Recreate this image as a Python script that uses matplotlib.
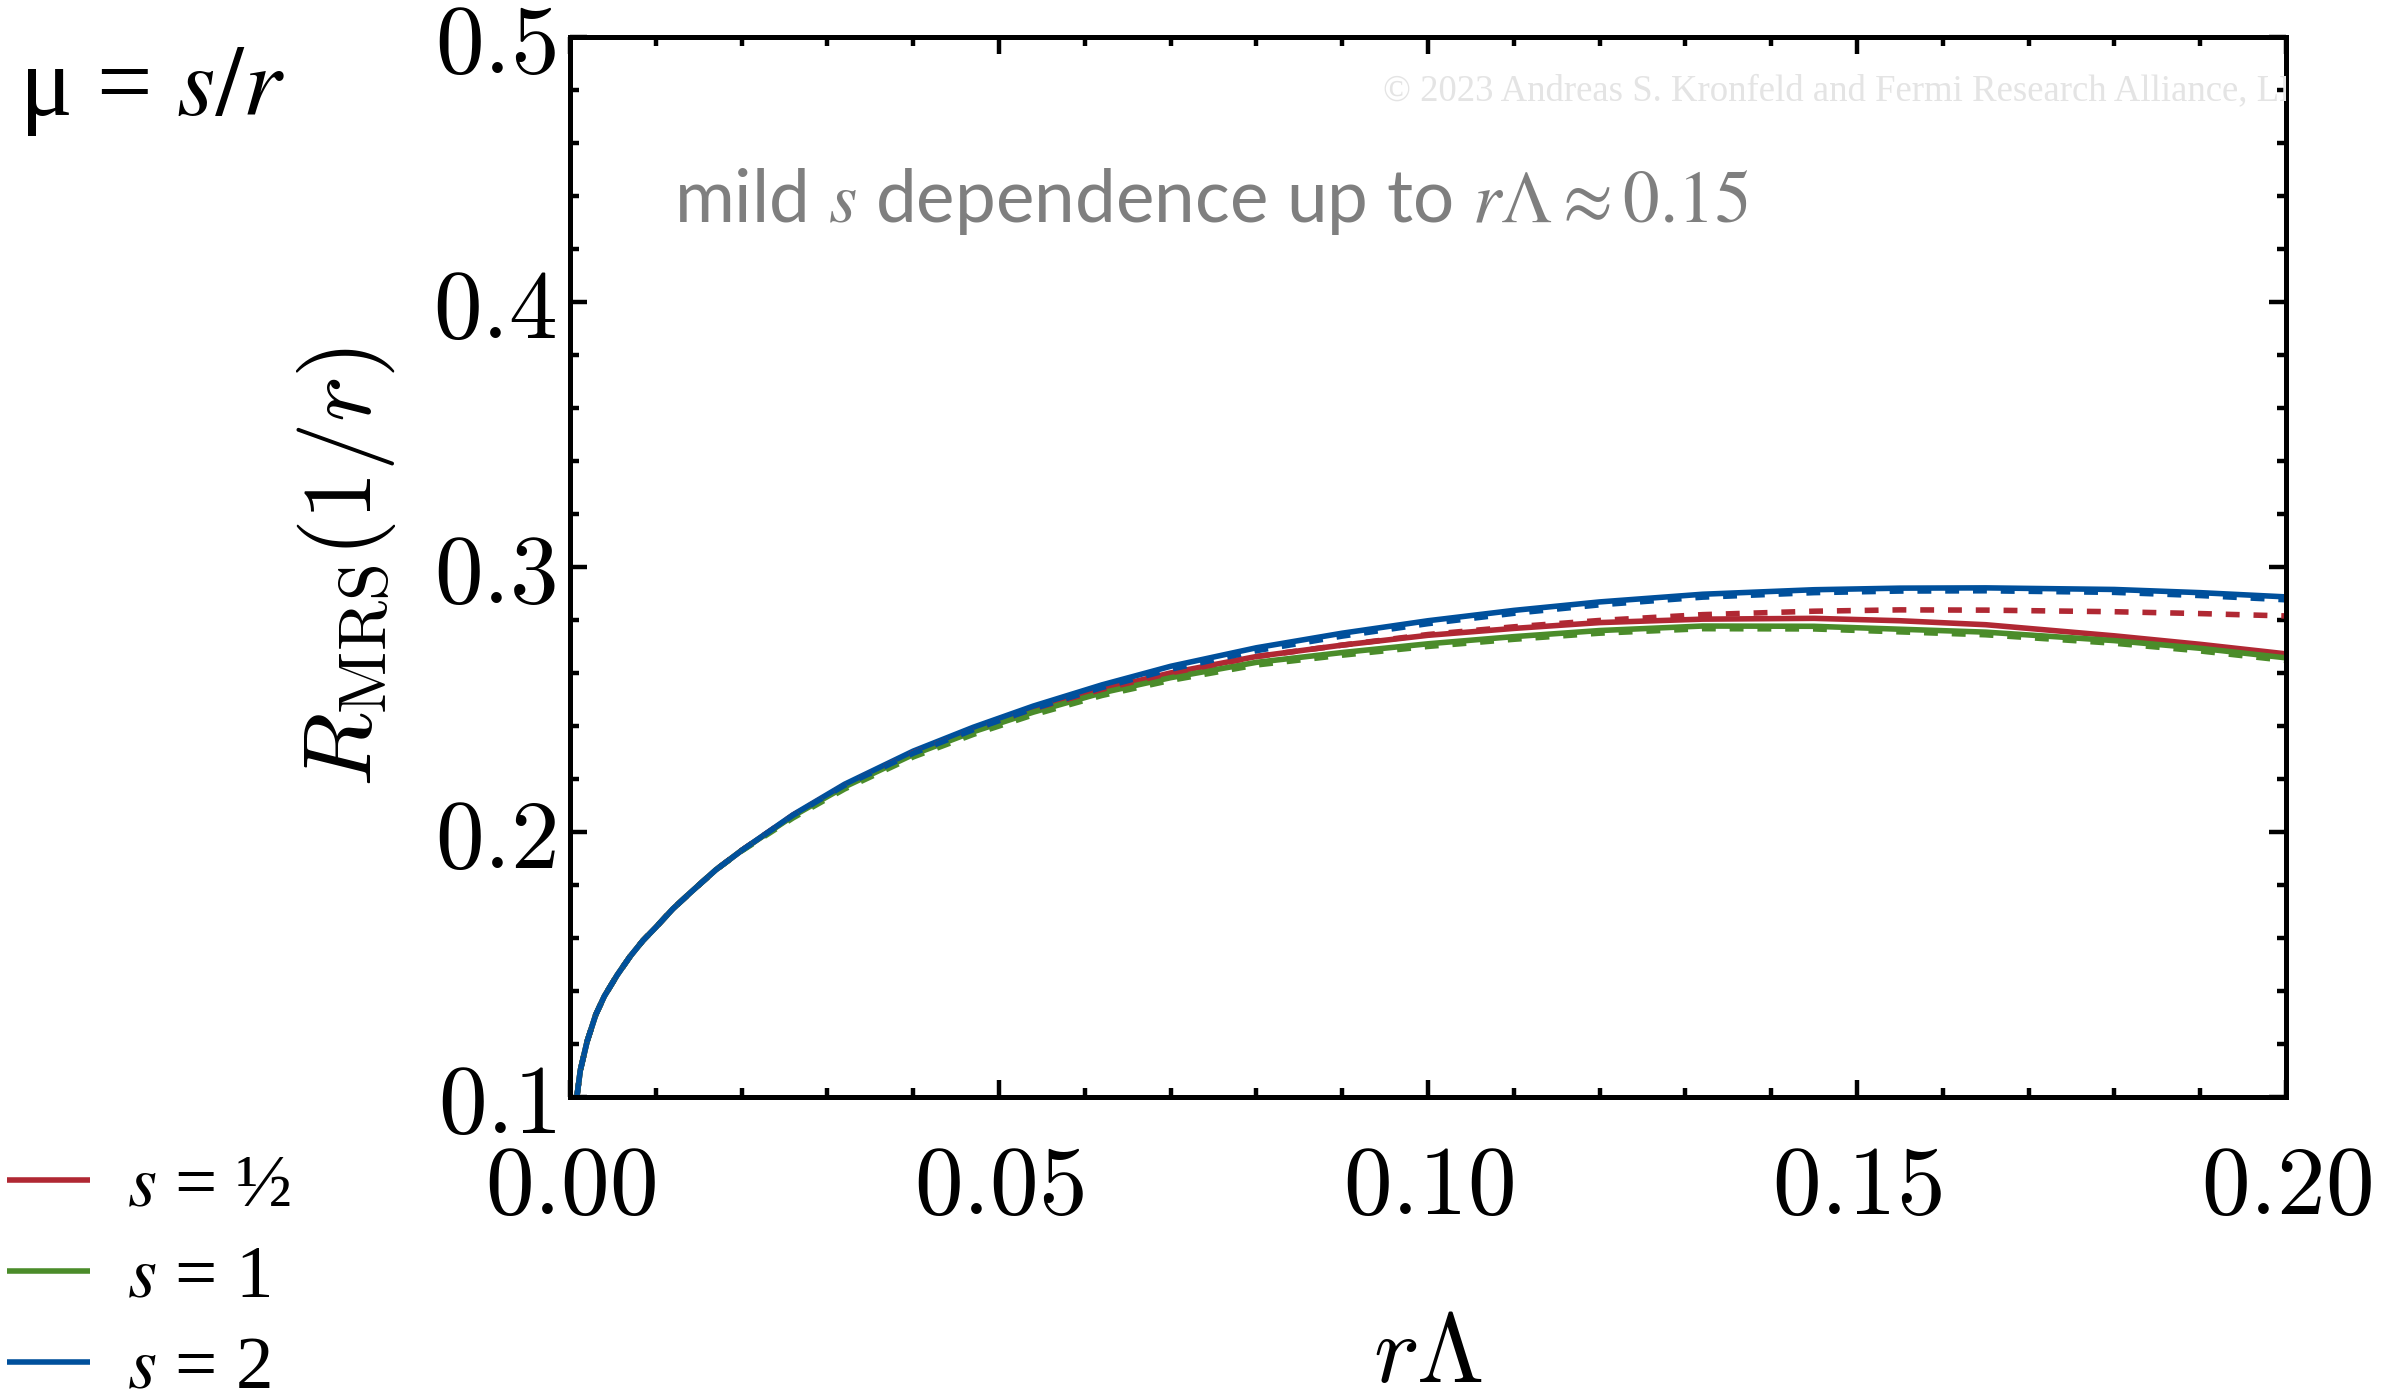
import numpy as np
import matplotlib.pyplot as plt
from matplotlib.font_manager import FontProperties
from matplotlib.ticker import MultipleLocator, FuncFormatter

plt.rcParams['mathtext.fontset'] = 'cm'

# r*Lambda grid and R_MRS(1/r) for the three scale choices mu = s/r
r_lambda = [0.0008, 0.0012, 0.002, 0.003, 0.004, 0.0055, 0.007, 0.0085, 0.010, 0.012,
            0.014, 0.017, 0.020,
            0.026, 0.032, 0.040, 0.047, 0.054, 0.062, 0.070, 0.080, 0.090, 0.100,
            0.110, 0.120, 0.132, 0.145, 0.155, 0.165, 0.180, 0.190, 0.200]

early = [0.100, 0.110, 0.121, 0.131, 0.138, 0.146, 0.153, 0.159, 0.164, 0.171,
         0.177, 0.1857, 0.193]

r_half = early + [0.2063, 0.2175, 0.2298, 0.2385, 0.2463, 0.2538, 0.2600, 0.2662, 0.2705, 0.2742,
                  0.2768, 0.2790, 0.2803, 0.2806, 0.2797, 0.2782, 0.2740, 0.2708, 0.2672]
r_half_dash = early + [0.2063, 0.2175, 0.2298, 0.2385, 0.2463, 0.2538, 0.2600, 0.2662, 0.2705, 0.2745,
                       0.2774, 0.2798, 0.2820, 0.2833, 0.2838, 0.2837, 0.2831, 0.2824, 0.2815]

r_one = early + [0.2060, 0.2170, 0.2292, 0.2378, 0.2452, 0.2525, 0.2582, 0.2640, 0.2677, 0.2710,
                 0.2737, 0.2760, 0.2777, 0.2776, 0.2765, 0.2754, 0.2722, 0.2693, 0.2657]
r_one_dash = early[:-1] + [0.1928, 0.2053, 0.2162, 0.2283, 0.2368, 0.2442, 0.2515, 0.2572, 0.2630, 0.2667,
                           0.2700, 0.2727, 0.2750, 0.2767, 0.2766, 0.2755, 0.2744, 0.2712, 0.2683, 0.2647]

r_two = early + [0.2065, 0.2180, 0.2305, 0.2395, 0.2475, 0.2555, 0.2625, 0.2695, 0.2750, 0.2797,
                 0.2836, 0.2868, 0.2897, 0.2914, 0.2920, 0.2921, 0.2915, 0.2903, 0.2887]
r_two_dash = early + [0.2063, 0.2176, 0.2297, 0.2386, 0.2465, 0.2545, 0.2614, 0.2684, 0.2739, 0.2786,
                      0.2825, 0.2857, 0.2886, 0.2903, 0.2909, 0.2910, 0.2904, 0.2892, 0.2876]

labels = ['$s$ = ½', '$s$ = 1', '$s$ = 2']
colors = ['#b02833', '#4b8c2a', '#00509c']

fig = plt.figure(figsize=(24.02, 13.94), dpi=100)
ax = fig.add_axes([0.2373, 0.2131, 0.7144, 0.7604])

lw = 4.0
solid = [r_half, r_one, r_two]
dashed = [r_half_dash, r_one_dash, r_two_dash]
handles = []
for ys, c in zip(solid, colors):
    h, = ax.plot(r_lambda, ys, color=c, lw=lw, solid_capstyle='butt', solid_joinstyle='round')
    handles.append(h)
for ys, c in zip(dashed, colors):
    ax.plot(r_lambda, ys, color=c, lw=lw, dashes=(2.5, 2.5))

ax.set_xlim(0, 0.2)
ax.set_ylim(0.1, 0.5)
ax.xaxis.set_major_locator(MultipleLocator(0.05))
ax.xaxis.set_minor_locator(MultipleLocator(0.01))
ax.yaxis.set_major_locator(MultipleLocator(0.1))
ax.yaxis.set_minor_locator(MultipleLocator(0.02))
ax.xaxis.set_major_formatter(FuncFormatter(lambda v, p: f'${v:.2f}$'))
ax.yaxis.set_major_formatter(FuncFormatter(lambda v, p: f'${v:.1f}$'))

for side in ax.spines.values():
    side.set_linewidth(3.6)
ax.tick_params(which='both', direction='in', top=True, right=True, width=3.2)
ax.tick_params(which='major', length=12, labelsize=70)
ax.tick_params(which='minor', length=6.5)
ax.tick_params(axis='x', which='major', pad=32)
ax.tick_params(axis='y', which='major', pad=10)

ax.set_xlabel(r'$r\Lambda$', fontsize=70)
ax.xaxis.set_label_coords(0.5, -0.2)
ax.set_ylabel(r'$R_{\mathrm{MRS}}(1/r)$', fontsize=70)
ax.yaxis.set_label_coords(-0.1, 0.5)

ax.text(0.0606, 0.8255, r'mild $s$ dependence up to $r\Lambda \approx 0.15$',
        transform=ax.transAxes, fontsize=52.5, family='Lato', color='#7f7f7f',
        va='baseline', math_fontfamily='stix')
ax.text(0.474, 0.9406, '© 2023 Andreas S. Kronfeld and Fermi Research Alliance, LLC',
        transform=ax.transAxes, fontsize=26.5, family='Liberation Serif', color='#e4e4e4',
        va='baseline', clip_on=True)

fig.text(0.008, 0.9175, 'μ = $s/r$', fontsize=71, family='Liberation Serif',
         va='baseline', math_fontfamily='stix')

legend_font = FontProperties(family='Liberation Serif', size=54, math_fontfamily='stix')
fig.legend(handles, labels, loc='upper left', bbox_to_anchor=(0.003, 0.172),
           frameon=False, prop=legend_font,
           handlelength=1.1, handletextpad=0.5, labelspacing=0.3,
           borderpad=0, borderaxespad=0)

fig.savefig('out.png', dpi=100)
